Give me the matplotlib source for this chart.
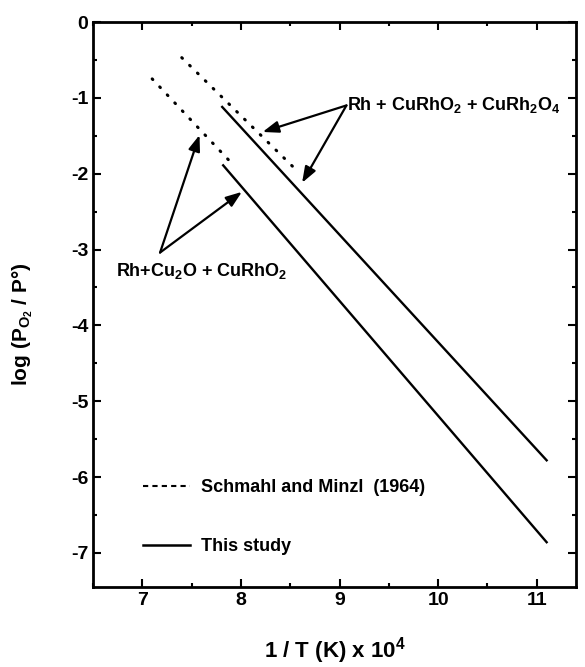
## Oxygen potential lines for the Cu-Rh-O system, this study vs. Schmahl and Minzl (1964)
import matplotlib
matplotlib.use("Agg")
import matplotlib.pyplot as plt
from matplotlib.lines import Line2D
from matplotlib.ticker import MultipleLocator

plt.rcParams['font.family'] = ['Liberation Sans', 'DejaVu Sans']
plt.rcParams['font.weight'] = 'bold'
plt.rcParams['axes.labelweight'] = 'bold'
plt.rcParams['mathtext.fontset'] = 'custom'
plt.rcParams['mathtext.rm'] = 'Liberation Sans:bold'
plt.rcParams['mathtext.it'] = 'Liberation Sans:bold'
plt.rcParams['mathtext.bf'] = 'Liberation Sans:bold'
plt.rcParams['axes.unicode_minus'] = False

# end points of the lines, x = 1/T * 1e4, y = log(pO2/p0)
study_upper_x = [7.81, 11.10]
study_upper_y = [-1.12, -5.78]
study_lower_x = [7.82, 11.10]
study_lower_y = [-1.89, -6.86]
schmahl_upper_x = [7.40, 8.56]
schmahl_upper_y = [-0.47, -1.95]
schmahl_lower_x = [7.10, 7.89]
schmahl_lower_y = [-0.75, -1.84]

upper_label = r'Rh + CuRhO$_2$ + CuRh$_2$O$_4$'
lower_label = r'Rh+Cu$_2$O + CuRhO$_2$'
upper_tail = (9.07, -1.10)
upper_heads = [(8.22, -1.45), (8.62, -2.12)]
lower_tail = (7.18, -3.04)
lower_heads = [(7.58, -1.49), (8.01, -2.24)]

fig = plt.figure(figsize=(5.85, 6.67), dpi=100)
ax = fig.add_axes([0.159, 0.12, 0.826, 0.847])

dot = (0, (0.3, 3.3))
ax.plot(schmahl_upper_x, schmahl_upper_y, color='black', lw=2.2, linestyle=dot,
        dash_capstyle='round')
ax.plot(schmahl_lower_x, schmahl_lower_y, color='black', lw=2.2, linestyle=dot,
        dash_capstyle='round')
ax.plot(study_upper_x, study_upper_y, color='black', lw=1.7)
ax.plot(study_lower_x, study_lower_y, color='black', lw=1.7)

arrow = dict(arrowstyle='-|>,head_length=0.6,head_width=0.22', lw=1.6,
             color='black', mutation_scale=16, shrinkA=0, shrinkB=0)
for head in upper_heads:
    ax.annotate('', xy=head, xytext=upper_tail, arrowprops=arrow)
for head in lower_heads:
    ax.annotate('', xy=head, xytext=lower_tail, arrowprops=arrow)
ax.text(upper_tail[0] + 0.01, upper_tail[1], upper_label, fontsize=13,
        ha='left', va='center')
ax.text(lower_tail[0] - 0.45, lower_tail[1] - 0.25, lower_label, fontsize=13,
        ha='left', va='center')

handles = [Line2D([], [], color='black', lw=1.5, linestyle=(0, (2.5, 2))),
           Line2D([], [], color='black', lw=1.8)]
ax.legend(handles, ['Schmahl and Minzl  (1964)', 'This study'],
          loc='lower left', bbox_to_anchor=(0.07, 0.028), frameon=False,
          fontsize=13, handlelength=2.6, handletextpad=0.6,
          labelspacing=2.3)

ax.set_xlim(6.5, 11.4)
ax.set_ylim(-7.45, 0)
ax.xaxis.set_major_locator(MultipleLocator(1))
ax.xaxis.set_minor_locator(MultipleLocator(0.5))
ax.yaxis.set_major_locator(MultipleLocator(1))
ax.yaxis.set_minor_locator(MultipleLocator(0.5))
ax.tick_params(which='both', direction='in', top=True, right=True, width=1.5,
               labelsize=14)
ax.tick_params(which='major', length=6)
ax.tick_params(which='minor', length=3)
for s in ax.spines.values():
    s.set_linewidth(2)

ax.set_xlabel(r'1 / T (K) x 10$^4$', fontsize=16, labelpad=19)
ax.set_ylabel(r'log (P$_{O_2}$ / P°)', fontsize=15)
ax.yaxis.set_label_coords(-0.12, 0.465)

fig.savefig('out.png', dpi=100)
